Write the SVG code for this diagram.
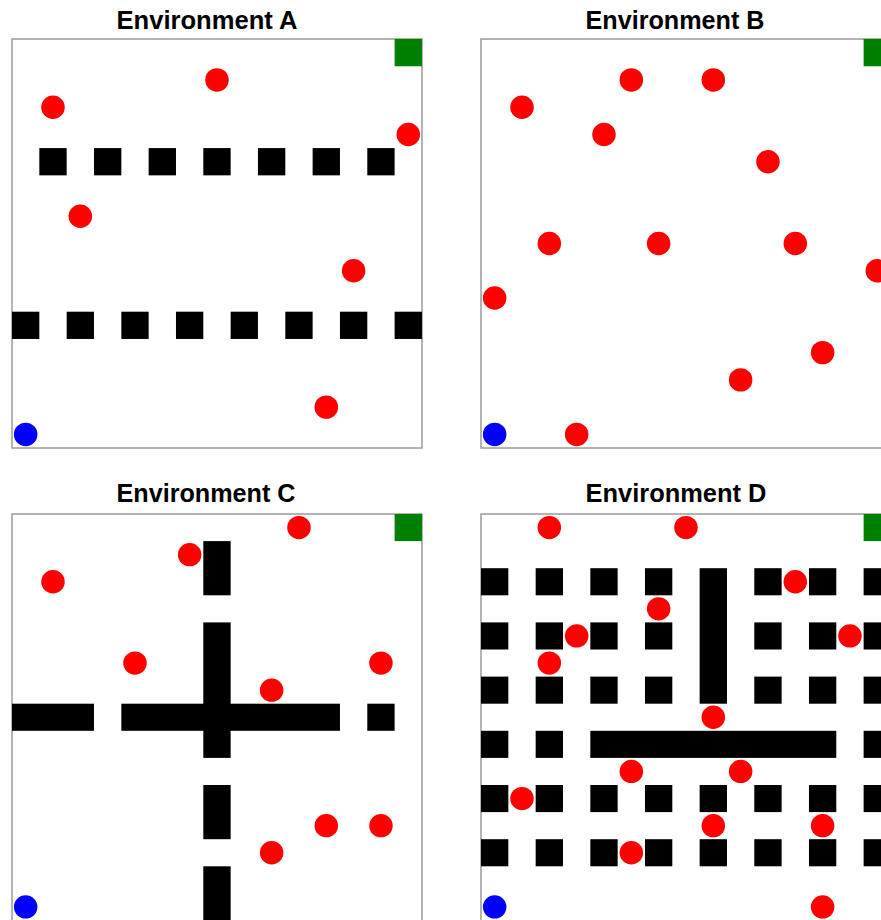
<svg xmlns="http://www.w3.org/2000/svg" width="881" height="920" viewBox="0 0 881 920">
<style>
.title{font-family:"Liberation Sans","Open Sans",Arial,sans-serif;font-weight:bold;font-size:25px;fill:#000;text-anchor:middle}
.frame{fill:#fff;stroke:#9a9a9a;stroke-width:1.5}
.obs{fill:#000}
.goal{fill:#008000}
.food{fill:#ff0000}
.agent{fill:#0000ff}
</style>
<rect width="881" height="920" fill="#fff"/>
<g id="connectors"/>

<!-- Environment A -->
<g id="envA">
<text class="title" x="207" y="29" textLength="181" lengthAdjust="spacingAndGlyphs">Environment A</text>
<rect class="frame" x="12" y="39" width="410" height="409"/>
<g transform="translate(12,39) scale(27.33,27.27)">
<g id="envA-obstacles" class="obs">
<rect x="1" y="4" width="1" height="1"/><rect x="3" y="4" width="1" height="1"/><rect x="5" y="4" width="1" height="1"/><rect x="7" y="4" width="1" height="1"/><rect x="9" y="4" width="1" height="1"/><rect x="11" y="4" width="1" height="1"/><rect x="13" y="4" width="1" height="1"/>
<rect x="0" y="10" width="1" height="1"/><rect x="2" y="10" width="1" height="1"/><rect x="4" y="10" width="1" height="1"/><rect x="6" y="10" width="1" height="1"/><rect x="8" y="10" width="1" height="1"/><rect x="10" y="10" width="1" height="1"/><rect x="12" y="10" width="1" height="1"/><rect x="14" y="10" width="1" height="1"/>
</g>
<rect id="envA-goal" class="goal" x="14" y="0" width="1" height="1"/>
<g id="envA-food" class="food">
<circle cx="1.5" cy="2.5" r="0.43"/><circle cx="7.5" cy="1.5" r="0.43"/><circle cx="14.5" cy="3.5" r="0.43"/><circle cx="2.5" cy="6.5" r="0.43"/><circle cx="12.5" cy="8.5" r="0.43"/><circle cx="11.5" cy="13.5" r="0.43"/>
</g>
<circle id="envA-agent" class="agent" cx="0.5" cy="14.5" r="0.43"/>
</g>
</g>

<!-- Environment B -->
<g id="envB">
<text class="title" x="675" y="29" textLength="179" lengthAdjust="spacingAndGlyphs">Environment B</text>
<rect class="frame" x="481" y="39" width="410" height="409"/>
<g transform="translate(481,39) scale(27.33,27.27)">
<rect id="envB-goal" class="goal" x="14" y="0" width="1" height="1"/>
<g id="envB-food" class="food">
<circle cx="1.5" cy="2.5" r="0.43"/><circle cx="5.5" cy="1.5" r="0.43"/><circle cx="8.5" cy="1.5" r="0.43"/><circle cx="4.5" cy="3.5" r="0.43"/><circle cx="10.5" cy="4.5" r="0.43"/><circle cx="2.5" cy="7.5" r="0.43"/><circle cx="6.5" cy="7.5" r="0.43"/><circle cx="11.5" cy="7.5" r="0.43"/><circle cx="14.5" cy="8.5" r="0.43"/><circle cx="0.5" cy="9.5" r="0.43"/><circle cx="12.5" cy="11.5" r="0.43"/><circle cx="9.5" cy="12.5" r="0.43"/><circle cx="3.5" cy="14.5" r="0.43"/>
</g>
<circle id="envB-agent" class="agent" cx="0.5" cy="14.5" r="0.43"/>
</g>
</g>

<!-- Environment C -->
<g id="envC">
<text class="title" x="206" y="502" textLength="179" lengthAdjust="spacingAndGlyphs">Environment C</text>
<rect class="frame" x="12" y="514" width="410" height="407"/>
<g transform="translate(12,514) scale(27.33,27.1)">
<g id="envC-obstacles" class="obs">
<rect x="7" y="1" width="1" height="2"/>
<rect x="7" y="4" width="1" height="5"/>
<rect x="0" y="7" width="3" height="1"/>
<rect x="4" y="7" width="8" height="1"/>
<rect x="13" y="7" width="1" height="1"/>
<rect x="7" y="10" width="1" height="2"/>
<rect x="7" y="13" width="1" height="2"/>
</g>
<rect id="envC-goal" class="goal" x="14" y="0" width="1" height="1"/>
<g id="envC-food" class="food">
<circle cx="1.5" cy="2.5" r="0.43"/><circle cx="6.5" cy="1.5" r="0.43"/><circle cx="10.5" cy="0.5" r="0.43"/><circle cx="4.5" cy="5.5" r="0.43"/><circle cx="13.5" cy="5.5" r="0.43"/><circle cx="9.5" cy="6.5" r="0.43"/><circle cx="11.5" cy="11.5" r="0.43"/><circle cx="13.5" cy="11.5" r="0.43"/><circle cx="9.5" cy="12.5" r="0.43"/>
</g>
<circle id="envC-agent" class="agent" cx="0.5" cy="14.5" r="0.43"/>
</g>
</g>

<!-- Environment D -->
<g id="envD">
<text class="title" x="676" y="502" textLength="181" lengthAdjust="spacingAndGlyphs">Environment D</text>
<rect class="frame" x="481" y="514" width="410" height="407"/>
<g transform="translate(481,514) scale(27.33,27.1)">
<g id="envD-obstacles" class="obs">
<rect x="0" y="2" width="1" height="1"/><rect x="2" y="2" width="1" height="1"/><rect x="4" y="2" width="1" height="1"/><rect x="6" y="2" width="1" height="1"/><rect x="10" y="2" width="1" height="1"/><rect x="12" y="2" width="1" height="1"/><rect x="14" y="2" width="1" height="1"/>
<rect x="0" y="4" width="1" height="1"/><rect x="2" y="4" width="1" height="1"/><rect x="4" y="4" width="1" height="1"/><rect x="6" y="4" width="1" height="1"/><rect x="10" y="4" width="1" height="1"/><rect x="12" y="4" width="1" height="1"/><rect x="14" y="4" width="1" height="1"/>
<rect x="0" y="6" width="1" height="1"/><rect x="2" y="6" width="1" height="1"/><rect x="4" y="6" width="1" height="1"/><rect x="6" y="6" width="1" height="1"/><rect x="10" y="6" width="1" height="1"/><rect x="12" y="6" width="1" height="1"/><rect x="14" y="6" width="1" height="1"/>
<rect x="8" y="2" width="1" height="5"/>
<rect x="0" y="8" width="1" height="1"/><rect x="2" y="8" width="1" height="1"/><rect x="4" y="8" width="9" height="1"/><rect x="14" y="8" width="1" height="1"/>
<rect x="0" y="10" width="1" height="1"/><rect x="2" y="10" width="1" height="1"/><rect x="4" y="10" width="1" height="1"/><rect x="6" y="10" width="1" height="1"/><rect x="8" y="10" width="1" height="1"/><rect x="10" y="10" width="1" height="1"/><rect x="12" y="10" width="1" height="1"/><rect x="14" y="10" width="1" height="1"/>
<rect x="0" y="12" width="1" height="1"/><rect x="2" y="12" width="1" height="1"/><rect x="4" y="12" width="1" height="1"/><rect x="6" y="12" width="1" height="1"/><rect x="8" y="12" width="1" height="1"/><rect x="10" y="12" width="1" height="1"/><rect x="12" y="12" width="1" height="1"/><rect x="14" y="12" width="1" height="1"/>
</g>
<rect id="envD-goal" class="goal" x="14" y="0" width="1" height="1"/>
<g id="envD-food" class="food">
<circle cx="2.5" cy="0.5" r="0.43"/><circle cx="7.5" cy="0.5" r="0.43"/><circle cx="11.5" cy="2.5" r="0.43"/><circle cx="6.5" cy="3.5" r="0.43"/><circle cx="3.5" cy="4.5" r="0.43"/><circle cx="13.5" cy="4.5" r="0.43"/><circle cx="2.5" cy="5.5" r="0.43"/><circle cx="8.5" cy="7.5" r="0.43"/><circle cx="5.5" cy="9.5" r="0.43"/><circle cx="9.5" cy="9.5" r="0.43"/><circle cx="1.5" cy="10.5" r="0.43"/><circle cx="8.5" cy="11.5" r="0.43"/><circle cx="12.5" cy="11.5" r="0.43"/><circle cx="5.5" cy="12.5" r="0.43"/><circle cx="12.5" cy="14.5" r="0.43"/>
</g>
<circle id="envD-agent" class="agent" cx="0.5" cy="14.5" r="0.43"/>
</g>
</g>
</svg>
